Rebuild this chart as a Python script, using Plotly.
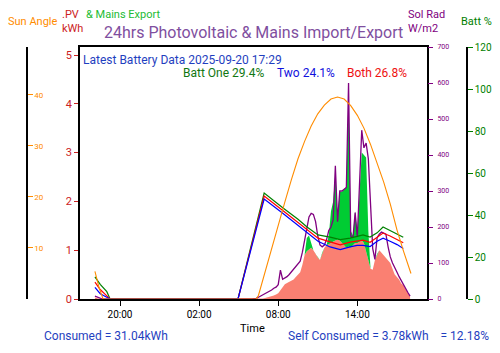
import pandas as pd
import plotly.graph_objects as go

# ---------------- data ----------------
eve_times = ["2025-09-19 18:06", "2025-09-19 18:20", "2025-09-19 18:40"]
day_times = [t.strftime("%Y-%m-%d %H:%M") for t in
             pd.date_range("2025-09-20 06:00", "2025-09-20 18:00", freq="10min")]
pv_times = eve_times + day_times

eve_pv = [0.03, 0.01, 0.0]
day_pv = [0, 0, 0, 0, 0, 0.01, 0.02, 0.03, 0.04, 0.05, 0.07, 0.09,
          0.12, 0.18, 0.25, 0.30, 0.33, 0.35, 0.38, 0.40, 0.45, 0.50, 0.55, 0.70,
          0.90, 0.98, 1.02, 1.05, 1.00, 0.92, 0.85, 0.80, 0.95, 1.05, 1.10, 1.12,
          1.15, 1.18, 1.20, 1.22, 1.20, 1.15, 1.10, 1.05, 1.07, 1.05, 1.10, 1.15,
          1.15, 1.18, 1.20, 1.15, 1.00, 0.80, 0.62, 0.60, 0.80, 0.92, 1.00, 0.95,
          0.90, 0.86, 0.80, 0.74, 0.62, 0.50, 0.45, 0.40, 0.32, 0.28, 0.20, 0.12,
          0.05]
pv_kwh = eve_pv + day_pv

eve_exp = [0, 0, 0]
day_exp = [0, 0, 0, 0, 0, 0, 0, 0, 0, 0, 0, 0,
           0, 0, 0, 0, 0, 0, 0, 0, 0, 0, 0, 0,
           0, 0.27, 0.28, 0.10, 0, 0, 0, 0, 0, 0, 0, 0.18,
           0.65, 0.82, 1.40, 0.48, 1.00, 1.05, 1.15, 1.25, 3.23, 0.35, 0.20, 0.65,
           0.20, 1.12, 1.80, 1.80, 1.90, 0.60, 0, 0, 0, 0, 0, 0,
           0, 0, 0, 0, 0, 0, 0, 0, 0, 0, 0, 0,
           0]
export_kwh = eve_exp + day_exp

eve_rad = [8, 4, 0]
day_rad = [0, 0, 2, 5, 8, 12, 15, 18, 22, 25, 30, 33,
           40, 80, 55, 58, 62, 68, 75, 82, 90, 95, 105, 130,
           160, 200, 228, 238, 235, 215, 175, 150, 145, 150, 165, 190,
           200, 220, 370, 215, 300, 300, 305, 310, 600, 175, 170, 240,
           172, 300, 469, 420, 433, 390, 240, 140, 110, 170, 180, 186,
           183, 180, 145, 117, 100, 85, 75, 62, 50, 42, 30, 18,
           8]
sol_rad = eve_rad + day_rad

batt_times = ["2025-09-19 18:06", "2025-09-19 18:30", "2025-09-19 19:00", "2025-09-19 19:15",
              "2025-09-20 04:57", "2025-09-20 06:56", "2025-09-20 08:22", "2025-09-20 09:30",
              "2025-09-20 10:11", "2025-09-20 11:01", "2025-09-20 11:56", "2025-09-20 12:42",
              "2025-09-20 13:27", "2025-09-20 13:59", "2025-09-20 14:26", "2025-09-20 14:58",
              "2025-09-20 15:30", "2025-09-20 15:57", "2025-09-20 16:29", "2025-09-20 17:01",
              "2025-09-20 17:29"]
batt_one = [10.5, 7.0, 3.5, 0, 0, 50.5, 43.3, 38.0, 34.3, 30.5, 29.5, 28.3,
            29.0, 30.0, 30.5, 29.5, 31.5, 34.3, 32.5, 31.0, 29.4]
batt_both = [8.0, 4.5, 1.5, 0, 0, 49.0, 42.0, 36.6, 33.0, 29.0, 27.2, 25.8,
             27.1, 27.6, 28.0, 27.0, 29.5, 31.4, 30.0, 28.4, 26.8]
batt_two = [5.5, 2.5, 0.8, 0, 0, 47.6, 40.7, 35.2, 31.5, 27.5, 24.8, 23.5,
            24.8, 25.5, 25.5, 25.0, 27.5, 29.0, 27.5, 25.9, 24.1]

sun_times = ["2025-09-19 18:06", "2025-09-19 18:25", "2025-09-19 18:43",
             "2025-09-20 06:20", "2025-09-20 06:30", "2025-09-20 07:00", "2025-09-20 07:30",
             "2025-09-20 08:00", "2025-09-20 08:30", "2025-09-20 09:00", "2025-09-20 09:30",
             "2025-09-20 10:00", "2025-09-20 10:30", "2025-09-20 11:00", "2025-09-20 11:30",
             "2025-09-20 12:00", "2025-09-20 12:30", "2025-09-20 13:00", "2025-09-20 13:30",
             "2025-09-20 14:00", "2025-09-20 14:30", "2025-09-20 15:00", "2025-09-20 15:30",
             "2025-09-20 16:00", "2025-09-20 16:30", "2025-09-20 17:00", "2025-09-20 17:30",
             "2025-09-20 18:00", "2025-09-20 18:04"]
sun_angle = [5.4, 2.2, 0, 0, 0.7, 5.4, 10.0, 14.6, 19.0, 23.4, 27.5, 30.9, 33.9,
             36.3, 38.0, 39.2, 39.6, 39.2, 37.9, 36.0, 33.5, 30.3, 26.8, 22.9, 18.6,
             13.6, 9.4, 5.5, 5.0]

x_ticks = ["2025-09-19 20:00", "2025-09-20 02:00", "2025-09-20 08:00", "2025-09-20 14:00"]
x_labels = ["20:00", "02:00", "08:00", "14:00"]

# ---------------- figure ----------------
FONT = "Roboto"
C_TITLE = "#7f4fa0"
C_RED = "#cc2222"
C_PURPLE = "#800080"
C_ORANGE = "#ff8c00"
C_GREEN = "#008000"
C_BLUE_TXT = "#1f3fc0"

fig = go.Figure()
fig.add_trace(go.Scatter(x=pv_times, y=pv_kwh, stackgroup="pv", mode="lines",
                         line=dict(width=0, color="salmon"), fillcolor="salmon",
                         yaxis="y", showlegend=False))
fig.add_trace(go.Scatter(x=pv_times, y=export_kwh, stackgroup="pv", mode="lines",
                         line=dict(width=0, color="#00cc33"), fillcolor="#00cc33",
                         yaxis="y", showlegend=False))
fig.add_trace(go.Scatter(x=pv_times, y=sol_rad, mode="lines",
                         line=dict(width=1.3, color=C_PURPLE), yaxis="y2", showlegend=False))
fig.add_trace(go.Scatter(x=batt_times, y=batt_one, mode="lines",
                         line=dict(width=1.2, color="green"), yaxis="y3", showlegend=False))
fig.add_trace(go.Scatter(x=batt_times, y=batt_both, mode="lines",
                         line=dict(width=1.2, color="red"), yaxis="y3", showlegend=False))
fig.add_trace(go.Scatter(x=batt_times, y=batt_two, mode="lines",
                         line=dict(width=1.2, color="blue"), yaxis="y3", showlegend=False))
fig.add_trace(go.Scatter(x=sun_times, y=sun_angle, mode="lines",
                         line=dict(width=1.1, color=C_ORANGE), yaxis="y4", showlegend=False))

W, H = 500, 353
def px(x):
    return x / W
def py(y):
    return (H - y) / H

ydom = [py(299), py(47)]

fig.update_layout(
    width=W, height=H,
    margin=dict(l=0, r=0, t=0, b=0, autoexpand=False),
    paper_bgcolor="white", plot_bgcolor="white",
    font=dict(family=FONT, size=11, color="black"),
    xaxis=dict(domain=[px(80), px(427)], type="date",
               range=["2025-09-19 16:58", "2025-09-20 19:17"],
               tickvals=x_ticks, ticktext=x_labels,
               ticks="outside", ticklen=5, tickcolor="black",
               showline=True, linecolor="black", linewidth=1.5, mirror=True,
               showgrid=False, zeroline=False,
               tickfont=dict(size=10, color="black")),
    yaxis=dict(domain=ydom, range=[0, 5.164], dtick=1,
               ticks="outside", ticklen=4, tickcolor=C_RED,
               tickfont=dict(size=11, color=C_RED),
               showline=True, linecolor="black", linewidth=1.5, mirror=True,
               showgrid=False, zeroline=False),
    yaxis2=dict(overlaying="y", side="right", anchor="x", range=[0, 700], dtick=100,
                ticks="outside", ticklen=5, tickcolor=C_PURPLE,
                tickfont=dict(size=7, color=C_PURPLE), ticklabelstandoff=3,
                showline=False, showgrid=False, zeroline=False),
    yaxis3=dict(overlaying="y", side="right", anchor="free", position=px(467),
                range=[0, 120], dtick=20,
                ticks="outside", ticklen=5, tickcolor=C_GREEN,
                tickfont=dict(size=10, color=C_GREEN),
                showline=True, linecolor="black", linewidth=1.5,
                showgrid=False, zeroline=False),
    yaxis4=dict(overlaying="y", side="left", anchor="free", position=px(27),
                range=[0, 49.4], dtick=10,
                ticks="inside", ticklabelposition="inside", ticklen=5, tickcolor=C_ORANGE,
                tickfont=dict(size=8, color=C_ORANGE),
                showline=True, linecolor="black", linewidth=1.5,
                showgrid=False, zeroline=False),
)

def ann(text, x, y, color, size, xanchor="left"):
    fig.add_annotation(text=text, x=px(x), y=py(y), xref="paper", yref="paper",
                       xanchor=xanchor, yanchor="middle", showarrow=False, borderpad=0,
                       font=dict(family=FONT, size=size, color=color), align="left")

ann("24hrs Photovoltaic &amp; Mains Import/Export", 253, 33, C_TITLE, 16, "center")
ann("Sun Angle", 33, 21, C_ORANGE, 11, "center")
ann(".PV<br>kWh", 61, 21, C_RED, 11)
ann("&amp; Mains Export", 85, 14, "#22bb33", 11)
ann("Sol Rad<br>W/m2", 407, 21, C_PURPLE, 11)
ann("Batt %", 460, 21, C_GREEN, 11)
ann("Latest Battery Data 2025-09-20 17:29", 82, 59.5, C_BLUE_TXT, 12)
ann("Batt One 29.4%", 182, 72.5, "#117711", 12)
ann("Two 24.1%", 276, 72.5, "#1111dd", 12)
ann("Both 26.8%", 346, 72.5, "#ee1111", 12)
ann("Time", 252, 328, "black", 11, "center")
ann("Consumed = 31.04kWh", 43, 336, C_BLUE_TXT, 12)
ann("Self Consumed = 3.78kWh&nbsp;&nbsp;&nbsp;&nbsp;= 12.18%", 287, 336, C_BLUE_TXT, 12)

fig.write_html("out.html")
